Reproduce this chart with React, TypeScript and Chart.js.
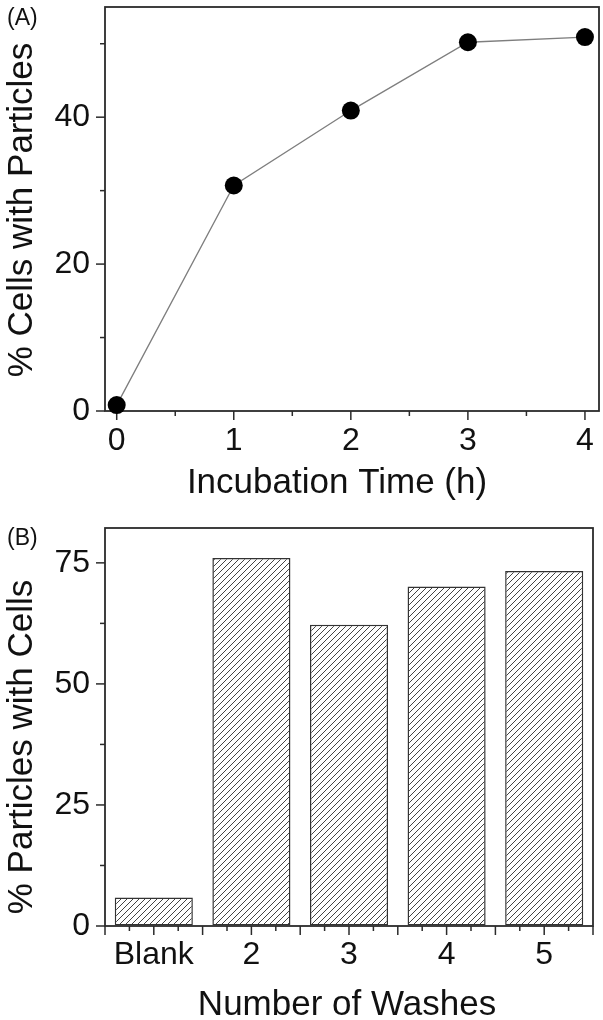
import React, { useEffect, useRef } from "react";
import { Chart, registerables } from "chart.js";

Chart.register(...registerables);

// ---- Panel A data ----
const timeHours = [0, 1, 2, 3, 4];
const cellsWithParticles = [0.8, 30.7, 40.9, 50.2, 50.9];
const aXTicks = [0, 1, 2, 3, 4];
const aXMinor = [0.5, 1.5, 2.5, 3.5];
const aYTicks = [0, 20, 40];
const aYMinor = [10, 30, 50];
const aXTitle = "Incubation Time (h)";
const aYTitle = "% Cells with Particles";

// ---- Panel B data ----
const washCategories = ["Blank", "2", "3", "4", "5"];
const particlesWithCells = [5.9, 76.0, 62.2, 70.1, 73.3];
const bYTicks = [0, 25, 50, 75];
const bYMinor = [12.5, 37.5, 62.5];
const bXTitle = "Number of Washes";
const bYTitle = "% Particles with Cells";

const FONT = '"Liberation Sans", Arial, sans-serif';
const AXIS = "#2b2b2b";
const TEXT = "#111";

function tick(ctx: CanvasRenderingContext2D, x1: number, y1: number, x2: number, y2: number) {
  ctx.beginPath();
  ctx.moveTo(x1, y1);
  ctx.lineTo(x2, y2);
  ctx.stroke();
}

interface PanelText {
  label: string;
  labelY: number;
  xTitle: string;
  xTitleX: number;
  xTitleBase: number;
  yTitle: string;
  yTitleY: number;
  yTitleBase: number;
}

function framePlugin(t: PanelText, kind: "line" | "bar", yMajor: number[], yMinor: number[], xMajor: number[], xMinor: number[]) {
  return {
    id: "frame" + kind,
    beforeDatasetsDraw(chart: any) {
      const { ctx, chartArea } = chart;
      const { left, right, top, bottom } = chartArea;
      const xs = chart.scales.x;
      const ys = chart.scales.y;
      ctx.save();
      ctx.strokeStyle = AXIS;
      ctx.lineWidth = 1.8;
      ctx.strokeRect(left, top, right - left, bottom - top);
      ctx.lineWidth = 1.5;
      yMajor.forEach((v) => { const p = ys.getPixelForValue(v); tick(ctx, left, p, left - 9, p); });
      yMinor.forEach((v) => { const p = ys.getPixelForValue(v); tick(ctx, left, p, left - 5, p); });
      if (kind === "line") {
        xMajor.forEach((v) => { const p = xs.getPixelForValue(v); tick(ctx, p, bottom, p, bottom + 9); });
        xMinor.forEach((v) => { const p = xs.getPixelForValue(v); tick(ctx, p, bottom, p, bottom + 5); });
      } else {
        const n = xs.getLabels().length;
        const half = (xs.getPixelForValue(1) - xs.getPixelForValue(0)) / 2;
        for (let i = 0; i < n; i++) {
          const c = xs.getPixelForValue(i);
          tick(ctx, c - half, bottom, c - half, bottom + 9);
          tick(ctx, c, bottom, c, bottom + 9);
          if (i === n - 1) tick(ctx, c + half, bottom, c + half, bottom + 9);
          tick(ctx, c - half / 2, bottom, c - half / 2, bottom + 5);
          tick(ctx, c + half / 2, bottom, c + half / 2, bottom + 5);
        }
      }
      // panel label
      ctx.fillStyle = TEXT;
      ctx.font = "23px " + FONT;
      ctx.textBaseline = "alphabetic";
      ctx.textAlign = "left";
      ctx.fillText(t.label, 7, t.labelY);
      // axis titles
      ctx.font = "35px " + FONT;
      ctx.textAlign = "center";
      ctx.fillText(t.xTitle, t.xTitleX, t.xTitleBase);
      ctx.save();
      ctx.translate(t.yTitleBase, t.yTitleY);
      ctx.rotate(-Math.PI / 2);
      ctx.fillText(t.yTitle, 0, 0);
      ctx.restore();
      ctx.restore();
    },
  };
}

function makePattern(): CanvasPattern | string {
  const s = 6;
  const c = document.createElement("canvas");
  c.width = s;
  c.height = s;
  const g = c.getContext("2d");
  if (!g) return "#ccc";
  g.fillStyle = "#ffffff";
  g.fillRect(0, 0, s, s);
  g.strokeStyle = "#444";
  g.lineWidth = 1;
  g.beginPath();
  g.moveTo(0, s); g.lineTo(s, 0);
  g.moveTo(-1, 1); g.lineTo(1, -1);
  g.moveTo(s - 1, s + 1); g.lineTo(s + 1, s - 1);
  g.stroke();
  const p = g.createPattern(c, "repeat");
  return p || "#ccc";
}

function fixTicks(values: number[]) {
  return (scale: any) => {
    scale.ticks = values.map((v) => ({ value: v }));
  };
}

function fitX(h: number) {
  return (s: any) => { s.height = h; s.paddingLeft = 0; s.paddingRight = 0; s.paddingTop = 0; s.paddingBottom = 0; };
}
function fitY(w: number) {
  return (s: any) => { s.width = w; s.paddingLeft = 0; s.paddingRight = 0; s.paddingTop = 0; s.paddingBottom = 0; };
}

export default function App() {
  const refA = useRef<HTMLCanvasElement>(null);
  const refB = useRef<HTMLCanvasElement>(null);

  useEffect(() => {
    const tickFont = { family: FONT, size: 32 };
    const hiddenGrid = { display: true, color: "rgba(0,0,0,0)", drawOnChartArea: false, drawTicks: true, tickLength: 9 };

    const chartA = new Chart(refA.current as HTMLCanvasElement, {
      type: "line",
      data: {
        datasets: [
          {
            data: timeHours.map((t, i) => ({ x: t, y: cellsWithParticles[i] })),
            borderColor: "#7e7e7e",
            borderWidth: 1.3,
            pointRadius: 9,
            pointBackgroundColor: "#000",
            pointBorderWidth: 0,
            clip: false as any,
          },
        ],
      },
      options: {
        animation: false,
        responsive: false,
        layout: { autoPadding: false, padding: { top: 7, right: 4, left: 0, bottom: 0 } },
        plugins: { legend: { display: false }, tooltip: { enabled: false } },
        scales: {
          x: {
            type: "linear",
            min: -0.1,
            max: 4.12,
            afterBuildTicks: fixTicks(aXTicks),
            afterFit: fitX(99),
            grid: hiddenGrid,
            border: { display: false },
            ticks: { font: tickFont, color: TEXT, padding: 2, maxRotation: 0 },
          },
          y: {
            type: "linear",
            min: 0,
            max: 55,
            afterBuildTicks: fixTicks(aYTicks),
            afterFit: fitY(105),
            grid: hiddenGrid,
            border: { display: false },
            ticks: { font: tickFont, color: TEXT, padding: 6 },
          },
        },
      } as any,
      plugins: [
        framePlugin(
          { label: "(A)", labelY: 25, xTitle: aXTitle, xTitleX: 337, xTitleBase: 493, yTitle: aYTitle, yTitleY: 210, yTitleBase: 32 },
          "line", aYTicks, aYMinor, aXTicks, aXMinor
        ),
      ],
    });

    const chartB = new Chart(refB.current as HTMLCanvasElement, {
      type: "bar",
      data: {
        labels: washCategories,
        datasets: [
          {
            data: particlesWithCells,
            backgroundColor: makePattern() as any,
            borderColor: "#333",
            borderWidth: 1.5,
            borderSkipped: false,
            barPercentage: 0.8,
            categoryPercentage: 1.0,
          },
        ],
      },
      options: {
        animation: false,
        responsive: false,
        layout: { autoPadding: false, padding: { top: 18, right: 10, left: 0, bottom: 0 } },
        plugins: { legend: { display: false }, tooltip: { enabled: false } },
        scales: {
          x: {
            type: "category",
            offset: true,
            afterFit: fitX(94),
            grid: { ...hiddenGrid, offset: true },
            border: { display: false },
            ticks: { font: tickFont, color: TEXT, padding: 1, maxRotation: 0 },
          },
          y: {
            type: "linear",
            min: 0,
            max: 82.2,
            afterBuildTicks: fixTicks(bYTicks),
            afterFit: fitY(105),
            grid: hiddenGrid,
            border: { display: false },
            ticks: { font: tickFont, color: TEXT, padding: 6 },
          },
        },
      } as any,
      plugins: [
        framePlugin(
          { label: "(B)", labelY: 35, xTitle: bXTitle, xTitleX: 347, xTitleBase: 505, yTitle: bYTitle, yTitleY: 237, yTitleBase: 32 },
          "bar", bYTicks, bYMinor, [], []
        ),
      ],
    });

    return () => {
      chartA.destroy();
      chartB.destroy();
    };
  }, []);

  return (
    <div style={{ position: "absolute", left: 0, top: 0, width: 603, height: 1020, background: "#fff" }}>
      <canvas ref={refA} width={603} height={510} style={{ position: "absolute", left: 0, top: 0, width: 603, height: 510 }} />
      <canvas ref={refB} width={603} height={510} style={{ position: "absolute", left: 0, top: 510, width: 603, height: 510 }} />
    </div>
  );
}
